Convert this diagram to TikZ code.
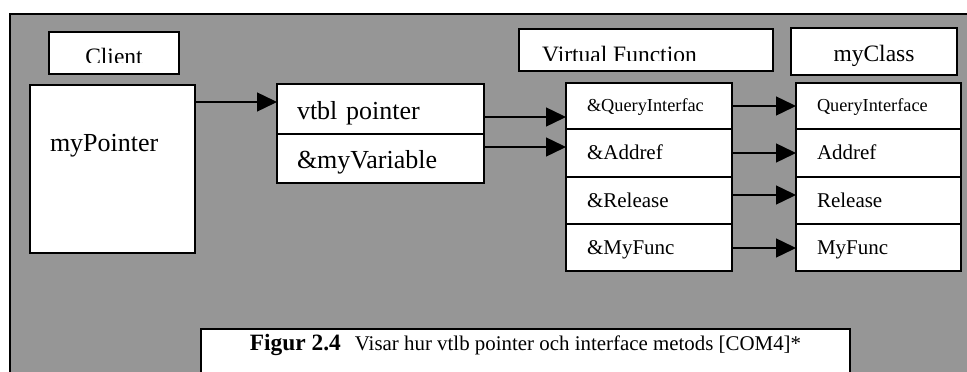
\documentclass[tikz,border=0pt]{standalone}
\usepackage{fontspec}
\setmainfont{Liberation Serif}
\usetikzlibrary{arrows.meta}
\definecolor{panelgray}{RGB}{150,150,150}
\tikzset{
  cell/.style={draw, fill=white, line width=1.6pt, outer sep=0pt, inner ysep=0pt,
               anchor=north west, align=left},
  rowfit/.style n args={3}{minimum height=#1, text height=#2, text depth=#3},
  ptrcol/.style={cell, minimum width=165pt, inner xsep=20pt, text width=125pt},
  vtblcol/.style={cell, minimum width=207pt, inner xsep=20pt, text width=167pt},
  vfcol/.style={cell, minimum width=166pt, inner xsep=21pt, text width=124pt},
  clscol/.style={cell, minimum width=165pt, inner xsep=21pt, text width=123pt},
  titlebox/.style={draw, fill=white, line width=1.6pt, outer sep=0pt, inner sep=0pt,
                   anchor=north west},
  link/.style={line width=1.4pt, -{Triangle[length=20pt,width=19pt]}},
  bigtxt/.style={font=\fontsize{26pt}{30pt}\selectfont},
  midtxt/.style={font=\fontsize{21pt}{25pt}\selectfont},
  smalltxt/.style={font=\fontsize{18.3pt}{22pt}\selectfont},
  headtxt/.style={font=\fontsize{23.5pt}{28pt}\selectfont},
}
\begin{document}
\begin{tikzpicture}[x=1pt, y=-1pt]
\useasboundingbox (0,0) rectangle (967,372);

% grey panel behind everything
\node[titlebox, fill=panelgray, minimum width=990pt, minimum height=400pt] (panel) at (10,14) {};

% client side
\node[titlebox, minimum width=130pt, minimum height=42pt] (client) at (49,32) {};
\begin{scope}
  \clip (client.north west) rectangle ([yshift=-30pt]client.north east);
  \node[headtxt, anchor=base, inner sep=0pt] (clientlbl) at ([yshift=-32.5pt]client.north) {Client};
\end{scope}
\node[ptrcol, bigtxt, rowfit={168pt}{66pt}{102pt}] (ptr) at (30,85) {myPointer};

% object layout
\node[vtblcol, bigtxt, rowfit={50pt}{35pt}{15pt}] (v1) at (277,84) {vtbl pointer};
\node[vtblcol, bigtxt, rowfit={49pt}{34pt}{15pt}] (v2) at (277,134) {\&myVariable};

% virtual function table
\node[titlebox, minimum width=254pt, minimum height=42pt] (vft) at (519,29) {};
\begin{scope}
  \clip (vft.north west) rectangle ([yshift=-31.5pt]vft.north east);
  \node[headtxt, anchor=base west, inner sep=0pt] (vftlbl) at (542,62.6) {Virtual Function};
\end{scope}
\node[vfcol, smalltxt, rowfit={46pt}{28pt}{18pt}] (f1) at (566,83) {\&QueryInterfac};
\node[vfcol, midtxt, rowfit={48pt}{30pt}{18pt}] (f2) at (566,129) {\&Addref};
\node[vfcol, midtxt, rowfit={47pt}{30pt}{17pt}] (f3) at (566,177) {\&Release};
\node[vfcol, midtxt, rowfit={47pt}{30pt}{17pt}] (f4) at (566,224) {\&MyFunc};

% class implementation
\node[titlebox, headtxt, minimum width=166pt, minimum height=47pt, text height=33pt, text depth=14pt] (cls) at (791,28) {myClass};
\node[clscol, smalltxt, rowfit={46pt}{28pt}{18pt}] (c1) at (796,83) {QueryInterface};
\node[clscol, midtxt, rowfit={48pt}{30pt}{18pt}] (c2) at (796,129) {Addref};
\node[clscol, midtxt, rowfit={47pt}{30pt}{17pt}] (c3) at (796,177) {Release};
\node[clscol, midtxt, rowfit={47pt}{30pt}{17pt}] (c4) at (796,224) {MyFunc};

% pointers
\draw[link] (ptr.east |- 0,102) -- (v1.west |- 0,102);
\draw[link] (v1.east |- 0,117) -- (f1.west |- 0,117);
\draw[link] (v2.east |- 0,147) -- (f2.west |- 0,147);
\draw[link] (f1.east |- 0,106) -- (c1.west |- 0,106);
\draw[link] (f2.east |- 0,153) -- (c2.west |- 0,153);
\draw[link] (f3.east |- 0,195) -- (c3.west |- 0,195);
\draw[link] (f4.east |- 0,248) -- (c4.west |- 0,248);

% caption
\node[titlebox, minimum width=649pt, minimum height=66pt, text height=21pt, text depth=45pt] (cap) at (201,329)
  {{\fontsize{23.4pt}{28pt}\selectfont\bfseries Figur 2.4}\hspace{14pt}{\fontsize{20.9pt}{25pt}\selectfont Visar hur vtlb pointer och interface metods [COM4]*}};
\end{tikzpicture}
\end{document}
